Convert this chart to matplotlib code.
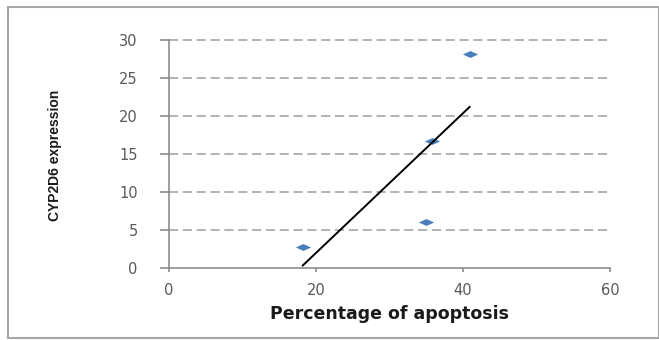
import numpy as np
import matplotlib
matplotlib.use('Agg')
import matplotlib.pyplot as plt
import matplotlib.patches as patches
from matplotlib.path import Path

# Data
apoptosis = [18.2, 35.0, 35.8, 40.9]
expression = [2.8, 6.1, 16.7, 28.2]
x_ticks = [0, 20, 40, 60]
y_ticks = [0, 5, 10, 15, 20, 25, 30]

axis_grey = '#8c8c8c'
label_grey = '#595959'

fig = plt.figure(figsize=(6.59, 3.40), dpi=100)
ax = fig.add_axes([169 / 659, 1 - 268 / 340, (610 - 169) / 659, (268 - 40) / 340])

# Outer chart border
fig.patches.append(patches.Rectangle((8 / 659, 2 / 340), 1 - 8 / 659, 1 - 9 / 340,
                                     transform=fig.transFigure, fill=False,
                                     edgecolor='#a6a6a6', linewidth=1.5))

# Dashed horizontal gridlines
for yv in y_ticks[1:]:
    ax.axhline(yv, color='#a6a6a6', linewidth=1.2, dashes=(5.5, 2.8), zorder=1,
               clip_on=False)

# Flattened diamond markers
diamond = Path([(-1, 0), (0, 0.45), (1, 0), (0, -0.45), (-1, 0)],
               [Path.MOVETO, Path.LINETO, Path.LINETO, Path.LINETO, Path.CLOSEPOLY])
ax.plot(apoptosis, expression, linestyle='none', marker=diamond, markersize=11,
        color='#4a7ebb', markeredgewidth=0, zorder=3)

# Linear trendline
slope, intercept = np.polyfit(apoptosis, expression, 1)
xs = np.array([min(apoptosis), max(apoptosis)])
ax.plot(xs, slope * xs + intercept, color='black', linewidth=1.4, zorder=4)

ax.set_xlim(0, 60)
ax.set_ylim(0, 30)
ax.set_xticks(x_ticks)
ax.set_yticks(y_ticks)

for side in ['top', 'right']:
    ax.spines[side].set_visible(False)
for side in ['left', 'bottom']:
    ax.spines[side].set_color(axis_grey)
    ax.spines[side].set_linewidth(1.2)

ax.tick_params(axis='y', direction='out', length=6.5, width=1.2, color=axis_grey,
               pad=16, labelsize=10.5, labelcolor=label_grey)
ax.tick_params(axis='x', direction='out', length=3, width=1.2, color=axis_grey,
               pad=8, labelsize=10.5, labelcolor=label_grey)
for lbl in ax.get_xticklabels() + ax.get_yticklabels():
    lbl.set_fontfamily('DejaVu Sans')

ax.set_xlabel('Percentage of apoptosis', fontsize=12.5, fontweight='bold',
              family='DejaVu Sans', color='#1a1a1a', labelpad=5)
fig.text(55 / 659, 1 - 155 / 340, 'CYP2D6 expression', rotation=90,
         ha='center', va='center', fontsize=10, fontweight='bold',
         family='Liberation Sans', color='#1a1a1a')

fig.savefig('out.png', dpi=100)
